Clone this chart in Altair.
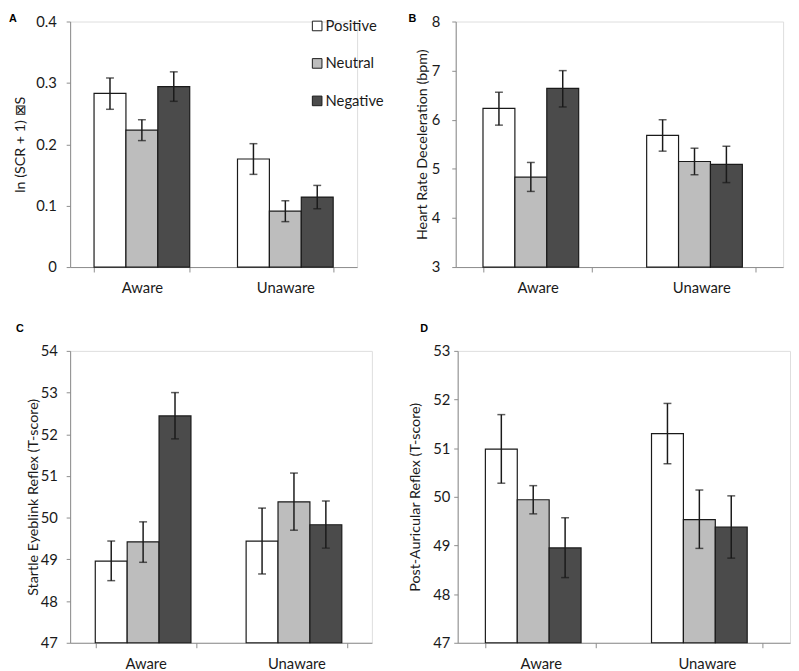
import altair as alt
import pandas as pd

groups = ["Aware", "Unaware"]
conditions = ["Positive", "Neutral", "Negative"]
colors = ["#ffffff", "#bdbdbd", "#4b4b4b"]

# Panel A: ln(SCR + 1)
scr_mean = [0.283, 0.223, 0.294, 0.176, 0.091, 0.114]
scr_lo = [0.257, 0.206, 0.270, 0.151, 0.074, 0.095]
scr_hi = [0.308, 0.240, 0.318, 0.201, 0.108, 0.133]
scr_ticks = [0, 0.1, 0.2, 0.3, 0.4]

# Panel B: heart rate deceleration
hr_mean = [6.23, 4.83, 6.64, 5.68, 5.15, 5.09]
hr_lo = [5.89, 4.54, 6.26, 5.36, 4.88, 4.72]
hr_hi = [6.56, 5.13, 7.00, 6.00, 5.42, 5.46]
hr_ticks = [3, 4, 5, 6, 7, 8]

# Panel C: startle eyeblink
blink_mean = [48.96, 49.42, 52.44, 49.44, 50.38, 49.83]
blink_lo = [48.49, 48.93, 51.89, 48.65, 49.70, 49.27]
blink_hi = [49.44, 49.90, 53.00, 50.23, 51.07, 50.40]
blink_ticks = [47, 48, 49, 50, 51, 52, 53, 54]

# Panel D: post-auricular reflex
par_mean = [50.98, 49.94, 48.95, 51.30, 49.53, 49.38]
par_lo = [50.28, 49.65, 48.34, 50.68, 48.94, 48.74]
par_hi = [51.69, 50.23, 49.57, 51.92, 50.14, 50.02]
par_ticks = [47, 48, 49, 50, 51, 52, 53]

FONT = "Lato"


def make_df(mean, lo, hi):
    rows = []
    i = 0
    for g in groups:
        for c in conditions:
            rows.append({"group": g, "cond": c, "mean": mean[i], "lo": lo[i], "hi": hi[i]})
            i += 1
    return pd.DataFrame(rows)


def panel(letter, mean, lo, hi, ticks, ytitle, width, height, title_dx, title_offset,
          label_pad, title_pad, legend=False):
    df = make_df(mean, lo, hi)
    dom = [ticks[0], ticks[-1]]
    xenc = alt.X("group:N", sort=groups,
                 scale=alt.Scale(paddingInner=0.333, paddingOuter=0.1667),
                 axis=alt.Axis(title=None, labelAngle=0, tickBand="extent", tickSize=5,
                               labelFontSize=15, labelPadding=9, domainColor="#8c8c8c",
                               tickColor="#8c8c8c", labelFont=FONT, labelColor="#1a1a1a"))
    xoff = alt.XOffset("cond:N", sort=conditions,
                       scale=alt.Scale(domain=conditions, paddingInner=0, paddingOuter=0))
    yscale = alt.Scale(domain=dom, nice=False, zero=False)
    if legend:
        leg = alt.Legend(orient="none", legendX=243, legendY=-3, title=None,
                         symbolType="square", symbolSize=95, symbolStrokeColor="#1a1a1a",
                         symbolStrokeWidth=1, labelFontSize=15, labelFont=FONT,
                         labelColor="#1a1a1a", rowPadding=22, symbolOpacity=1,
                         labelOffset=1)
    else:
        leg = None
    bars = alt.Chart(df).mark_bar(stroke="#1a1a1a", strokeWidth=1.2, opacity=1).encode(
        x=xenc,
        xOffset=xoff,
        y=alt.Y("mean:Q", scale=yscale, stack=None,
                axis=alt.Axis(values=ticks, format="~g", title=ytitle, tickSize=4,
                              labelFontSize=15, labelPadding=label_pad, titleFontSize=14.5,
                              titleFontWeight="normal", titlePadding=title_pad,
                              domainColor="#8c8c8c", tickColor="#8c8c8c",
                              labelFont=FONT, titleFont=FONT, labelColor="#1a1a1a",
                              titleColor="#1a1a1a", grid=False)),
        color=alt.Color("cond:N", sort=conditions,
                        scale=alt.Scale(domain=conditions, range=colors), legend=leg),
    )
    rules = alt.Chart(df).mark_rule(color="#1a1a1a", strokeWidth=1.5).encode(
        x=alt.X("group:N", sort=groups), xOffset=xoff,
        y=alt.Y("lo:Q", scale=yscale), y2="hi:Q")
    cap_lo = alt.Chart(df).mark_tick(color="#1a1a1a", thickness=1.5, size=8, orient="horizontal").encode(
        x=alt.X("group:N", sort=groups), xOffset=xoff, y=alt.Y("lo:Q", scale=yscale))
    cap_hi = alt.Chart(df).mark_tick(color="#1a1a1a", thickness=1.5, size=8, orient="horizontal").encode(
        x=alt.X("group:N", sort=groups), xOffset=xoff, y=alt.Y("hi:Q", scale=yscale))
    return alt.layer(bars, rules, cap_lo, cap_hi).properties(
        width=width, height=height,
        title=alt.TitleParams(text=letter, anchor="start", frame="group", dx=title_dx,
                              offset=title_offset, fontSize=11, font="Liberation Sans",
                              fontWeight="bold", color="#000000"))


pA = panel("A", scr_mean, scr_lo, scr_hi, scr_ticks, "ln (SCR + 1) \u22a0S",
           291, 249, -62, -10, 10, 8, legend=True)
pB = panel("B", hr_mean, hr_lo, hr_hi, hr_ticks, "Heart Rate Deceleration (bpm)",
           332, 249, -48, -10, 12, 2)
pC = panel("C", blink_mean, blink_lo, blink_hi, blink_ticks, "Startle Eyeblink Reflex (T-score)",
           306, 296, -55, 10, 9, 0)
pD = panel("D", par_mean, par_lo, par_hi, par_ticks, "Post-Auricular Reflex (T-score)",
           337, 296, -38, 10, 4, 10)

row1 = alt.hconcat(pA, pB, spacing=50)
row2 = alt.hconcat(pC, pD, spacing=35)
chart = alt.vconcat(row1, row2, spacing=26).resolve_scale(color="independent").resolve_legend(
    color="independent").properties(padding=0).configure_view(stroke=None).configure(
    font=FONT)

chart.save("out.html", embed_options={"renderer": "svg", "actions": False})
